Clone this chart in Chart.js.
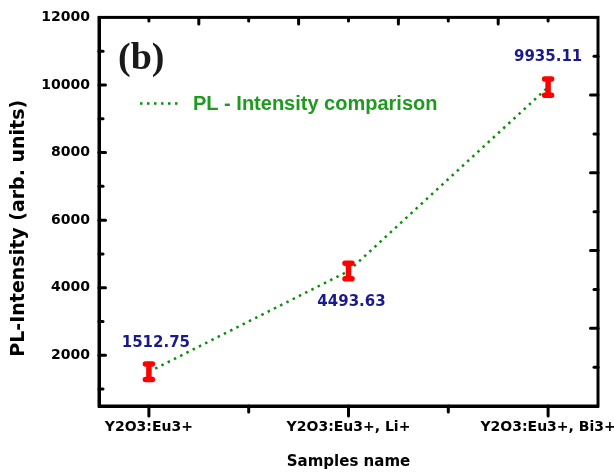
<!DOCTYPE html>
<html>
<head>
<meta charset="utf-8">
<script src="https://cdn.jsdelivr.net/npm/chart.js@4.4.0/dist/chart.umd.min.js"></script>
<style>
  html, body { margin: 0; padding: 0; background: #fff; }
  #wrap { width: 614px; height: 472px; }
</style>
</head>
<body>
<div id="wrap"><canvas id="pl" width="614" height="472"></canvas></div>
<script>
const CATEGORIES = ['Y2O3:Eu3+', 'Y2O3:Eu3+, Li+', 'Y2O3:Eu3+, Bi3+'];
const PL_VALUES  = [1512.75, 4493.63, 9935.11];
const PL_ERRORS  = [230, 230, 240];
const X_TICKS    = [0, 0.5, 1, 1.5, 2];
const Y_TICKS    = [1000, 2000, 3000, 4000, 5000, 6000, 7000, 8000, 9000, 10000, 11000, 12000];
const FRAME_TICKS = [1, 2, 3, 4, 5, 6, 7, 8, 9];   // top / right axis marks (0..10 scales)

const C_LINE   = '#0a8f0a';
const C_LEGEND = '#1e9a1e';
const C_LABEL  = '#1a1a8c';
const C_ERR    = '#ff0000';

Chart.defaults.font.family = 'DejaVu Sans';
Chart.defaults.color = '#000';

const fixedTicks = list => s => { s.ticks = list.map(v => ({ value: v })); };

// frame box + inward ticks (left/top/right), outward ticks on the bottom
const frameTicks = {
  id: 'frameTicks',
  afterDraw(chart) {
    const { ctx, chartArea: a, scales } = chart;
    const seg = (x1, y1, x2, y2) => { ctx.beginPath(); ctx.moveTo(x1, y1); ctx.lineTo(x2, y2); ctx.stroke(); };
    ctx.save();
    ctx.strokeStyle = '#000';
    ctx.lineWidth = 3;
    ctx.strokeRect(a.left, a.top, a.right - a.left, a.bottom - a.top);
    ctx.lineCap = 'round';

    scales.y.ticks.forEach(t => {
      const py = scales.y.getPixelForValue(t.value);
      if (py <= a.top + 1) return;
      seg(a.left, py, a.left + (t.value % 2000 === 0 ? 6.5 : 4), py);
    });
    scales.x.ticks.forEach(t => {
      const px = scales.x.getPixelForValue(t.value);
      seg(px, a.bottom, px, a.bottom + (Number.isInteger(t.value) ? 10 : 6));
    });
    FRAME_TICKS.forEach(v => {
      const px = scales.x2.getPixelForValue(v);
      seg(px, a.top, px, a.top + (v % 2 === 0 ? 6.5 : 3.5));
      const py = scales.y2.getPixelForValue(v);
      seg(a.right, py, a.right - (v % 2 === 0 ? 7.5 : 4), py);
    });
    ctx.restore();
  }
};

const errorBars = {
  id: 'errorBars',
  afterDatasetsDraw(chart) {
    const { ctx, scales: { x, y } } = chart;
    ctx.save();
    ctx.strokeStyle = C_ERR;
    ctx.lineWidth = 5.5;
    ctx.lineCap = 'round';
    PL_VALUES.forEach((v, i) => {
      const px = x.getPixelForValue(i);
      const top = y.getPixelForValue(v + PL_ERRORS[i]);
      const bot = y.getPixelForValue(v - PL_ERRORS[i]);
      ctx.beginPath();
      ctx.moveTo(px, top); ctx.lineTo(px, bot);
      ctx.moveTo(px - 3.5, top); ctx.lineTo(px + 3.5, top);
      ctx.moveTo(px - 3.5, bot); ctx.lineTo(px + 3.5, bot);
      ctx.stroke();
    });
    ctx.restore();
  }
};

const valueLabels = {
  id: 'valueLabels',
  afterDatasetsDraw(chart, args, opts) {
    const { ctx, scales: { x, y } } = chart;
    ctx.save();
    ctx.font = 'bold 15px "DejaVu Sans"';
    ctx.fillStyle = C_LABEL;
    ctx.textAlign = 'center';
    ctx.textBaseline = 'middle';
    PL_VALUES.forEach((v, i) => {
      const [dx, dy] = opts.offsets[i];
      ctx.fillText(v.toFixed(2), x.getPixelForValue(i) + dx, y.getPixelForValue(v) + dy);
    });
    ctx.restore();
  }
};

// in-plot legend and the "(b)" panel tag
const panelText = {
  id: 'panelText',
  afterDraw(chart) {
    const { ctx, chartArea: a } = chart;
    const ds = chart.data.datasets[0];
    ctx.save();
    ctx.fillStyle = '#1a1a1a';
    ctx.font = 'bold 38px "Liberation Serif"';
    ctx.textBaseline = 'alphabetic';
    ctx.fillText('(b)', a.left + 19, a.top + 52);

    const ly = a.top + 86;
    ctx.strokeStyle = ds.borderColor;
    ctx.lineWidth = ds.borderWidth;
    ctx.setLineDash(ds.borderDash);
    ctx.beginPath();
    ctx.moveTo(a.left + 41, ly);
    ctx.lineTo(a.left + 79, ly);
    ctx.stroke();
    ctx.setLineDash([]);
    ctx.fillStyle = C_LEGEND;
    ctx.font = 'bold 20px "Liberation Sans"';
    ctx.textBaseline = 'middle';
    ctx.fillText(ds.label, a.left + 94, ly + 1);
    ctx.restore();
  }
};

new Chart(document.getElementById('pl'), {
  type: 'line',
  data: {
    datasets: [{
      label: 'PL - Intensity comparison',
      data: PL_VALUES.map((v, i) => ({ x: i, y: v })),
      xAxisID: 'x',
      yAxisID: 'y',
      borderColor: C_LINE,
      borderWidth: 2.5,
      borderDash: [2.5, 4.5],
      pointRadius: 0,
      tension: 0,
      fill: false,
    }],
  },
  options: {
    responsive: false,
    animation: false,
    layout: { padding: { top: 17, right: 16, bottom: 0, left: 0 } },
    plugins: {
      legend: { display: false },
      tooltip: { enabled: false },
      valueLabels: { offsets: [[7, -29], [3, 31], [0, -30]] },
    },
    scales: {
      x: {
        type: 'linear',
        position: 'bottom',
        min: -0.25,
        max: 2.25,
        afterBuildTicks: fixedTicks(X_TICKS),
        grid: { display: false, drawTicks: false },
        border: { display: true, width: 3, color: '#000' },
        ticks: {
          autoSkip: false,
          maxRotation: 0,
          padding: 13,
          font: { size: 14, weight: 'bold' },
          callback: v => Number.isInteger(v) ? CATEGORIES[v] : '',
        },
        title: {
          display: true,
          text: 'Samples name',
          font: { size: 15, weight: 'bold' },
          padding: { top: 0, bottom: 1 },
        },
        afterFit: s => { s.height = 66; s.paddingLeft = 0; s.paddingRight = 0; },
      },
      y: {
        type: 'linear',
        position: 'left',
        min: 500,
        max: 12000,
        afterBuildTicks: fixedTicks(Y_TICKS),
        grid: { display: false, drawTicks: false },
        border: { display: true, width: 3, color: '#000' },
        ticks: {
          autoSkip: false,
          padding: 9,
          font: { size: 14, weight: 'bold' },
          callback: v => v % 2000 === 0 ? String(v) : '',
        },
        title: {
          display: true,
          text: 'PL-Intensity (arb. units)     ',
          font: { size: 19, weight: 'bold' },
          padding: { top: 8, bottom: 0 },
        },
        afterFit: s => { s.width = 99; },
      },
      x2: { type: 'linear', position: 'top', min: 0, max: 10, display: false },
      y2: { type: 'linear', position: 'right', min: 0, max: 10, display: false },
    },
  },
  plugins: [frameTicks, errorBars, valueLabels, panelText],
});
</script>
</body>
</html>
